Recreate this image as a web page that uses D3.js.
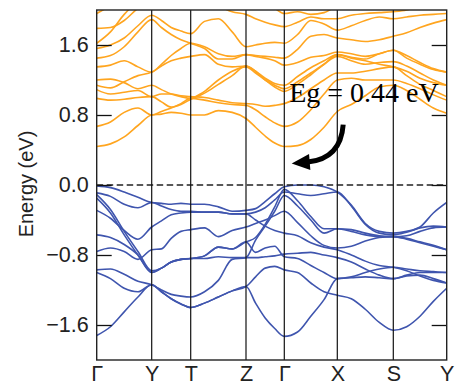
<!DOCTYPE html>
<html>
<head>
<meta charset="utf-8">
<script src="https://cdn.jsdelivr.net/npm/d3@7"></script>
<style>
  html, body { margin: 0; padding: 0; background: #fff; }
  svg { display: block; }
</style>
</head>
<body>
<svg id="chart" width="457" height="385"></svg>
<script>
// High-symmetry path through the Brillouin zone
const kLabels = ["Γ", "Y", "T", "Z", "Γ", "X", "S", "Y"];
const kNodes = [0, 0.55, 0.94, 1.493, 1.876, 2.406, 2.966, 3.5];
const samplesPerSegment = 4;

const yTicks = [-1.6, -0.8, 0.0, 0.8, 1.6];
const gapLabel = "Eg = 0.44 eV";

// Band energies (eV) at the sampled k-points: Γ-Y | Y-T | T-Z | Z-Γ | Γ-X | X-S | S-Y
const conductionBands = [
  [0.44,0.47,0.55,0.68,0.80, 0.81,0.83,0.82,0.80, 0.80,0.85,0.83,0.76, 0.66,0.56,0.48,0.44, 0.45,0.52,0.66,0.84, 0.92,1.02,1.12,1.14, 1.08,0.98,0.88,0.82],
  [0.67,0.72,0.83,0.88,0.80, 0.84,0.88,0.93,0.99, 0.97,0.94,0.92,0.91, 0.86,0.78,0.71,0.67, 0.72,0.86,1.04,1.20, 1.22,1.20,1.20,1.20, 1.16,1.10,1.03,0.97],
  [0.99,0.97,0.98,1.00,1.01, 0.95,0.89,0.92,0.98, 1.07,1.20,1.30,1.35, 1.28,1.20,1.14,1.10, 1.18,1.28,1.38,1.47, 1.42,1.38,1.40,1.41, 1.36,1.28,1.20,1.14],
  [1.09,1.04,1.06,1.08,1.01, 1.04,1.04,1.02,1.01, 1.00,0.97,0.94,0.93, 0.92,0.90,0.91,0.93, 1.00,1.10,1.20,1.28, 1.28,1.30,1.33,1.35, 1.25,1.15,1.08,1.01],
  [1.14,1.11,1.18,1.25,1.29, 1.36,1.42,1.45,1.47, 1.49,1.38,1.35,1.36, 1.30,1.22,1.16,1.14, 1.24,1.34,1.42,1.49, 1.46,1.44,1.50,1.54, 1.45,1.38,1.32,1.29],
  [1.20,1.21,1.17,1.10,1.14, 1.09,1.04,1.01,0.99, 1.05,1.15,1.25,1.36, 1.30,1.20,1.12,1.07, 1.15,1.26,1.38,1.49, 1.45,1.42,1.38,1.35, 1.30,1.22,1.17,1.14],
  [1.35,1.37,1.42,1.35,1.29, 1.38,1.48,1.56,1.62, 1.58,1.50,1.47,1.49, 1.47,1.45,1.42,1.37, 1.40,1.46,1.48,1.52, 1.50,1.47,1.50,1.54, 1.48,1.40,1.33,1.29],
  [1.45,1.48,1.58,1.75,1.89, 1.80,1.72,1.66,1.62, 1.56,1.44,1.44,1.49, 1.48,1.47,1.46,1.45, 1.55,1.70,1.72,1.68, 1.66,1.64,1.66,1.70, 1.74,1.80,1.85,1.89],
  [1.56,1.60,1.68,1.82,1.94, 1.88,1.80,1.76,1.73, 1.87,1.90,1.75,1.58, 1.60,1.62,1.63,1.62, 1.72,1.88,1.84,1.77, 1.82,1.88,1.92,1.90, 1.92,1.94,1.95,1.96],
  [1.62,1.75,1.95,2.10,2.20, 2.25,2.30,2.30,2.20, 2.15,2.05,1.98,1.95, 1.90,1.86,1.83,1.81, 1.86,1.92,1.90,1.90, 1.94,1.96,1.97,1.98, 2.00,2.05,2.10,2.10],
  [1.79,1.80,1.88,2.02,2.12, 2.20,2.30,2.30,2.30, 2.30,2.30,2.30,2.30, 2.20,2.10,2.02,1.96, 1.98,1.95,1.97,2.05, 2.10,2.10,2.10,2.10, 2.10,2.10,2.10,2.10],
  [1.96,2.05,2.15,2.25,2.30, 2.30,2.30,2.30,2.30, 2.30,2.30,2.30,2.30, 2.30,2.30,2.30,2.30, 2.30,2.30,2.30,2.30, 2.30,2.30,2.30,2.30, 2.30,2.30,2.30,2.30]
];

const valenceBands = [
  [-0.01,-0.03,-0.08,-0.14,-0.20, -0.21,-0.22,-0.21,-0.22, -0.22,-0.25,-0.30,-0.29, -0.27,-0.19,-0.10,-0.02, 0.00,0.00,-0.02,-0.08, -0.23,-0.44,-0.53,-0.55, -0.53,-0.48,-0.32,-0.20],
  [-0.09,-0.13,-0.22,-0.26,-0.20, -0.24,-0.28,-0.30,-0.30, -0.31,-0.31,-0.33,-0.33, -0.31,-0.26,-0.17,-0.08, -0.10,-0.12,-0.10,-0.08, -0.24,-0.45,-0.55,-0.57, -0.54,-0.49,-0.47,-0.48],
  [-0.11,-0.28,-0.53,-0.76,-0.98, -0.95,-0.88,-0.85,-0.84, -0.81,-0.71,-0.73,-0.65, -0.60,-0.45,-0.25,-0.05, -0.18,-0.36,-0.50,-0.50, -0.51,-0.55,-0.58,-0.59, -0.58,-0.53,-0.49,-0.48],
  [-0.15,-0.32,-0.57,-0.80,-1.00, -0.95,-0.88,-0.85,-0.84, -0.81,-0.71,-0.73,-0.65, -0.77,-0.72,-0.70,-0.82, -0.84,-0.92,-1.00,-1.07, -1.05,-1.00,-0.96,-0.94, -0.96,-0.98,-0.99,-1.00],
  [-0.29,-0.38,-0.52,-0.62,-0.48, -0.41,-0.34,-0.32,-0.31, -0.31,-0.31,-0.33,-0.33, -0.40,-0.47,-0.52,-0.55, -0.58,-0.66,-0.71,-0.74, -0.80,-0.87,-0.92,-0.94, -0.98,-1.04,-1.09,-1.12],
  [-0.57,-0.60,-0.68,-0.80,-1.00, -0.95,-0.88,-0.85,-0.84, -0.84,-0.82,-0.83,-0.83, -0.83,-0.82,-0.81,-0.79, -0.78,-0.77,-0.80,-0.83, -0.88,-0.96,-1.03,-1.07, -1.03,-1.00,-1.00,-1.00],
  [-0.76,-0.72,-0.76,-0.85,-0.74, -0.73,-0.61,-0.53,-0.51, -0.49,-0.59,-0.52,-0.48, -0.44,-0.40,-0.35,-0.30, -0.43,-0.58,-0.69,-0.72, -0.70,-0.64,-0.60,-0.59, -0.61,-0.65,-0.69,-0.74],
  [-0.97,-0.96,-1.02,-1.10,-1.14, -1.20,-1.25,-1.27,-1.28, -1.22,-1.09,-0.85,-0.83, -0.63,-0.47,-0.30,-0.12, -0.24,-0.40,-0.55,-0.50, -0.53,-0.57,-0.59,-0.59, -0.62,-0.66,-0.70,-0.74],
  [-1.00,-1.07,-1.18,-1.22,-1.14, -1.22,-1.30,-1.36,-1.40, -1.35,-1.28,-1.21,-1.16, -1.05,-0.95,-0.93,-0.97, -1.00,-1.12,-1.22,-1.26, -1.30,-1.42,-1.57,-1.66, -1.62,-1.50,-1.33,-1.18],
  [-1.72,-1.62,-1.45,-1.28,-1.14, -1.22,-1.30,-1.36,-1.40, -1.35,-1.28,-1.21,-1.16, -1.35,-1.52,-1.64,-1.73, -1.68,-1.50,-1.31,-1.07, -1.06,-1.05,-1.06,-1.07, -1.04,-1.03,-1.07,-1.12]
];

// Sampled k coordinates along the path
const kGrid = [];
for (let i = 0; i < kNodes.length - 1; i++) {
  for (let j = 0; j < samplesPerSegment; j++) {
    kGrid.push(kNodes[i] + (kNodes[i + 1] - kNodes[i]) * j / samplesPerSegment);
  }
}
kGrid.push(kNodes[kNodes.length - 1]);

const svg = d3.select("#chart");
const plot = { left: 96.7, right: 446.7, top: 10, bottom: 360 };

const x = d3.scaleLinear().domain([kNodes[0], kNodes[kNodes.length - 1]]).range([plot.left, plot.right]);
const y = d3.scaleLinear().domain([-2, 2]).range([plot.bottom, plot.top]);

svg.append("defs").append("clipPath").attr("id", "plot-clip")
  .append("rect")
  .attr("x", plot.left).attr("y", plot.top)
  .attr("width", plot.right - plot.left).attr("height", plot.bottom - plot.top);

const line = d3.line()
  .x((d, i) => x(kGrid[i]))
  .y(d => y(d))
  .curve(d3.curveMonotoneX);

const bands = svg.append("g").attr("clip-path", "url(#plot-clip)");

bands.selectAll("path.cb")
  .data(conductionBands)
  .join("path")
  .attr("class", "cb")
  .attr("d", line)
  .attr("fill", "none")
  .attr("stroke", "#FFA51F")
  .attr("stroke-width", 1.6)
  .attr("stroke-linejoin", "round");

bands.selectAll("path.vb")
  .data(valenceBands)
  .join("path")
  .attr("class", "vb")
  .attr("d", line)
  .attr("fill", "none")
  .attr("stroke", "#3F55AE")
  .attr("stroke-width", 1.6)
  .attr("stroke-linejoin", "round");

// Fermi level
svg.append("line")
  .attr("x1", plot.left).attr("x2", plot.right)
  .attr("y1", y(0)).attr("y2", y(0))
  .attr("stroke", "#222")
  .attr("stroke-width", 1.3)
  .attr("stroke-dasharray", "6.5,3.5");

// High-symmetry point separators
svg.selectAll("line.kline")
  .data(kNodes.slice(1, -1))
  .join("line")
  .attr("class", "kline")
  .attr("x1", d => x(d)).attr("x2", d => x(d))
  .attr("y1", plot.top).attr("y2", plot.bottom)
  .attr("stroke", "#111")
  .attr("stroke-width", 1.2);

// Axes
const fontSans = "'Liberation Sans', Arial, sans-serif";

const leftAxis = svg.append("g")
  .attr("transform", `translate(${plot.left},0)`)
  .call(d3.axisLeft(y).tickValues(yTicks).tickSize(-15).tickPadding(8).tickFormat(d3.format(".1f")));

const rightAxis = svg.append("g")
  .attr("transform", `translate(${plot.right},0)`)
  .call(d3.axisRight(y).tickValues(yTicks).tickSize(-15).tickFormat(""));

const bottomAxis = svg.append("g")
  .attr("transform", `translate(0,${plot.bottom})`)
  .call(d3.axisBottom(x).tickValues(kNodes).tickSize(0).tickPadding(6).tickFormat((d, i) => kLabels[i]));

[leftAxis, rightAxis, bottomAxis].forEach(g => {
  g.select(".domain").remove();
  g.selectAll(".tick line").attr("stroke", "#111").attr("stroke-width", 1.3);
  g.selectAll("text").attr("font-family", fontSans).attr("font-size", 21.5).attr("fill", "#222");
});

// Frame
svg.append("rect")
  .attr("x", plot.left).attr("y", plot.top)
  .attr("width", plot.right - plot.left).attr("height", plot.bottom - plot.top)
  .attr("fill", "none")
  .attr("stroke", "#222")
  .attr("stroke-width", 1.4);

// Axis title
svg.append("text")
  .attr("transform", `translate(33,${(plot.top + plot.bottom) / 2 - 1}) rotate(-90)`)
  .attr("text-anchor", "middle")
  .attr("font-family", fontSans)
  .attr("font-size", 20)
  .attr("fill", "#222")
  .text("Energy (eV)");

// Band gap annotation
const gapText = { k: 1.925, e: 0.952 };
svg.append("text")
  .attr("x", x(gapText.k)).attr("y", y(gapText.e))
  .attr("font-family", "'Liberation Serif', 'Times New Roman', serif")
  .attr("font-size", 28)
  .attr("fill", "#000")
  .text(gapLabel);

const arrowStart = { k: 2.465, e: 0.69 };
const arrowCtrl = { k: 2.44, e: 0.30 };
const arrowEnd = { k: 2.11, e: 0.262 };
const arrowTip = { k: 1.95, e: 0.245 };

svg.append("path")
  .attr("d", `M${x(arrowStart.k)},${y(arrowStart.e)} Q${x(arrowCtrl.k)},${y(arrowCtrl.e)} ${x(arrowEnd.k)},${y(arrowEnd.e)}`)
  .attr("fill", "none")
  .attr("stroke", "#000")
  .attr("stroke-width", 5);

const tipX = x(arrowTip.k), tipY = y(arrowTip.e);
const baseX = x(arrowEnd.k) + 2, baseY = y(arrowEnd.e);
const ang = Math.atan2(tipY - baseY, tipX - baseX);
const half = 8;
svg.append("path")
  .attr("d", `M${tipX},${tipY} L${baseX - half * Math.sin(ang)},${baseY + half * Math.cos(ang)} L${baseX + half * Math.sin(ang)},${baseY - half * Math.cos(ang)} Z`)
  .attr("fill", "#000");
</script>
</body>
</html>
